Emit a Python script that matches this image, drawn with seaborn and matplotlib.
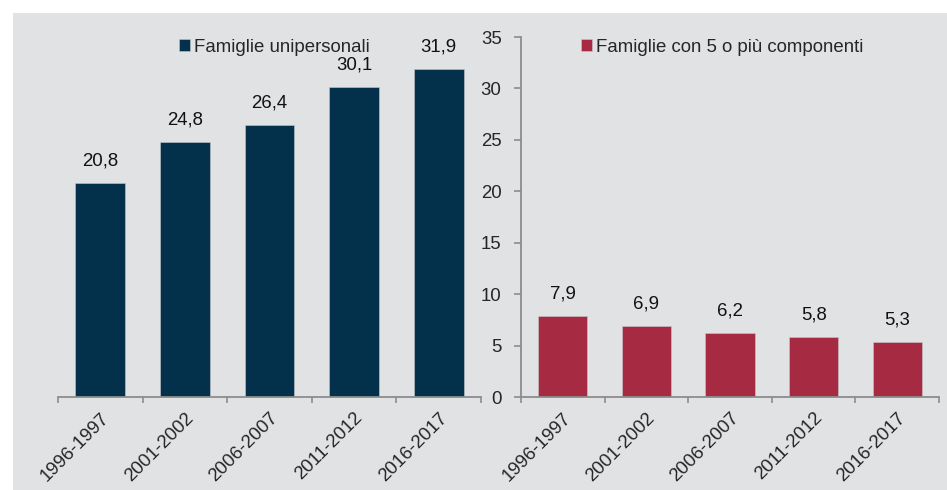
import matplotlib
matplotlib.use("Agg")
import matplotlib.pyplot as plt
import seaborn as sns
from matplotlib.patches import Rectangle

# data
periodi = ["1996-1997", "2001-2002", "2006-2007", "2011-2012", "2016-2017"]
unipersonali = [20.8, 24.8, 26.4, 30.1, 31.9]
cinque_piu = [7.9, 6.9, 6.2, 5.8, 5.3]
y_ticks = [0, 5, 10, 15, 20, 25, 30, 35]

navy = "#03304a"
rosso = "#a52a42"
bg = "#e1e2e4"
spine_col = "#8c8c8c"
fs = 13.4

sns.set_style("white")
plt.rcParams["font.family"] = ["Liberation Sans", "DejaVu Sans"]
plt.rcParams["font.size"] = fs

fig = plt.figure(figsize=(9.47, 4.90), dpi=100)
fig.patches.append(Rectangle((13 / 947, 0), 1 - 13 / 947, 1 - 13 / 490,
                             transform=fig.transFigure, facecolor=bg,
                             edgecolor="none", zorder=-10))

ax1 = fig.add_axes([58 / 947, 93 / 490, (481 - 58) / 947, 360 / 490])
ax2 = fig.add_axes([521 / 947, 93 / 490, (939 - 521) / 947, 360 / 490])

leg_x = {0: 179 / 947, 1: 581 / 947}
for k, (ax, vals, col, lab) in enumerate(
        [(ax1, unipersonali, navy, "Famiglie unipersonali"),
         (ax2, cinque_piu, rosso, "Famiglie con 5 o più componenti")]):
    ax.set_facecolor("none")
    sns.barplot(x=periodi, y=vals, color=col, width=0.59, ax=ax,
                saturation=1, label=lab, edgecolor="#c8c8cc", linewidth=0.4)
    ax.set_ylim(0, 35)
    ax.set_xlim(-0.5, 4.5)
    for i, v in enumerate(vals):
        ax.annotate(f"{v:.1f}".replace(".", ","), (i, v), xytext=(0, 16),
                    textcoords="offset points", ha="center", va="center",
                    fontsize=fs, color="#111111")
    # tick marks at category boundaries, labels at centers
    ax.set_xticks([i - 0.5 for i in range(6)], minor=True)
    ax.set_xticks(range(5))
    ax.set_xticklabels(periodi, rotation=45, ha="right", rotation_mode="anchor")
    ax.tick_params(axis="x", which="major", length=0, pad=9)
    ax.tick_params(axis="x", which="minor", length=4, width=1.2, color=spine_col,
                   direction="out", bottom=True)
    for s in ["top", "right", "left"]:
        ax.spines[s].set_visible(False)
    ax.spines["bottom"].set_color(spine_col)
    ax.spines["bottom"].set_linewidth(1.3)
    ax.set_xlabel("")
    ax.set_ylabel("")
    ax.legend(loc="center left", bbox_to_anchor=(leg_x[k], 1 - 47 / 490),
              bbox_transform=fig.transFigure, frameon=False,
              handlelength=0.6, handleheight=0.6, handletextpad=0.2,
              borderaxespad=0, borderpad=0, fontsize=fs)

ax1.set_yticks([])
ax2.set_yticks(y_ticks)
ax2.spines["left"].set_visible(True)
ax2.spines["left"].set_color(spine_col)
ax2.spines["left"].set_linewidth(1.3)
ax2.tick_params(axis="y", length=5, width=1.2, color=spine_col, direction="out",
                left=True, pad=9)

fig.savefig("out.png", dpi=100, facecolor="white")
